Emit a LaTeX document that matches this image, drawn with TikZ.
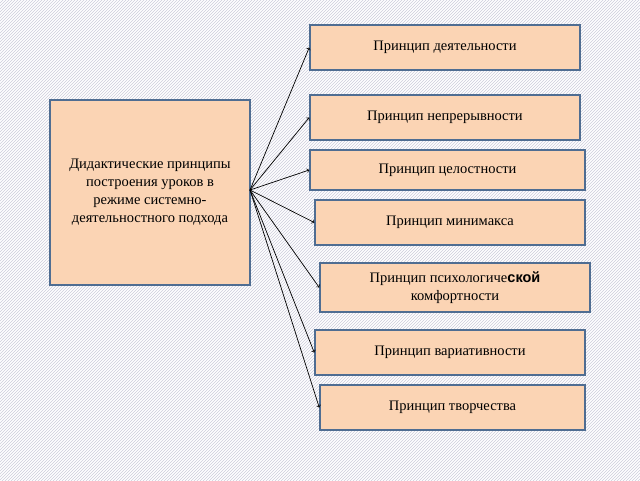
\documentclass[tikz,border=0pt]{standalone}
\usepackage{fontspec}
\setmainfont{Liberation Serif}
\newfontfamily\sansb{Liberation Sans}
\usetikzlibrary{patterns}
\definecolor{peach}{HTML}{FBD4B4}
\definecolor{edge}{HTML}{4F6D92}
\tikzset{
  box/.style={draw=edge, line width=1.5pt, fill=peach, align=center, font=\fontsize{14.5}{18}\selectfont, inner sep=0pt},
  arr/.style={-{to[scale=1.3]}, line width=0.7pt}
}
\begin{document}
\begin{tikzpicture}[x=1pt,y=-1pt]
\useasboundingbox (0,0) rectangle (640,480);
\fill[white] (0,0) rectangle (640,480);
\fill[pattern=north east lines, pattern color=blue!30!black!20] (0,0) rectangle (640,480);
\node[box, minimum width=200pt, minimum height=185pt] (L) at (150,192.5) {Дидактические принципы\\построения уроков в\\режиме системно-\\деятельностного подхода};
\node[box, minimum width=270pt, minimum height=45pt] (a) at (445,47.5) {Принцип деятельности};
\node[box, minimum width=270pt, minimum height=45pt] (b) at (445,117.5) {Принцип непрерывности};
\node[box, minimum width=275pt, minimum height=40pt] (c) at (447.5,170) {Принцип целостности};
\node[box, minimum width=270pt, minimum height=45pt] (d) at (450,222.5) {Принцип минимакса};
\node[box, minimum width=270pt, minimum height=49pt] (e) at (455,287.5) {Принцип психологиче{\sansb\bfseries ской}\\комфортности};
\node[box, minimum width=270pt, minimum height=45pt] (f) at (450,352.5) {Принцип вариативности};
\node[box, minimum width=265pt, minimum height=45pt] (g) at (452.5,407.5) {Принцип творчества};
\coordinate (o) at (250,190);
\foreach \t in {a,b,c,d,e,f,g}{\draw[arr] (o) -- (\t.west);}
\end{tikzpicture}
\end{document}
